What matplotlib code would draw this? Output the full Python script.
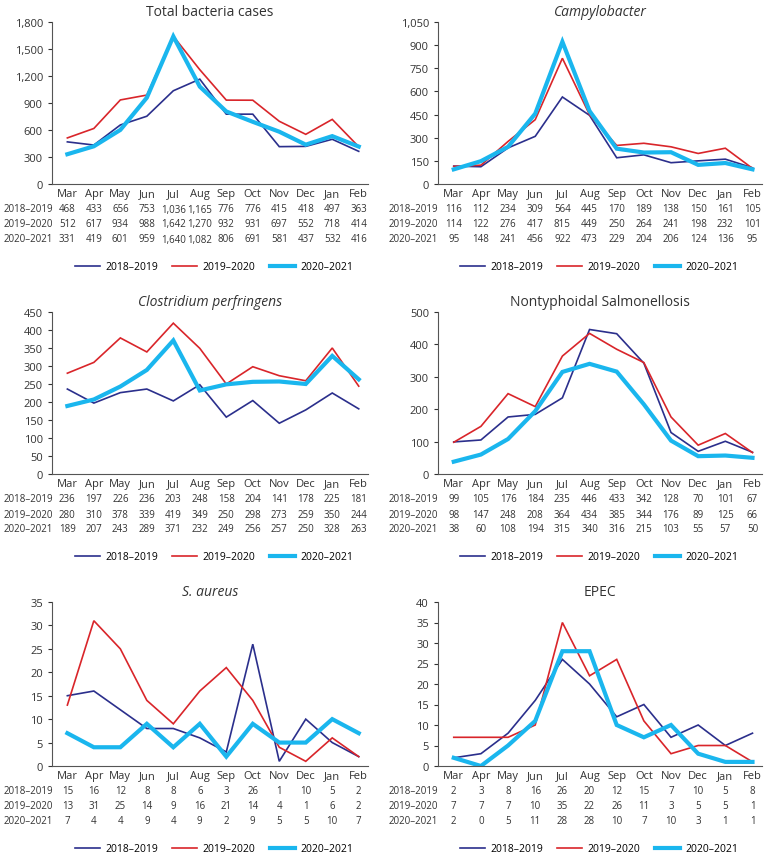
import numpy as np
import matplotlib
matplotlib.use("Agg")
import matplotlib.pyplot as plt
from matplotlib.lines import Line2D
from matplotlib.ticker import FuncFormatter
import matplotlib.transforms as mtransforms

plt.rcParams['font.family'] = ['Open Sans', 'DejaVu Sans']

months = ['Mar', 'Apr', 'May', 'Jun', 'Jul', 'Aug', 'Sep', 'Oct', 'Nov', 'Dec', 'Jan', 'Feb']
seasons = ['2018-2019', '2019-2020', '2020-2021']

total_1819 = [468, 433, 656, 753, 1036, 1165, 776, 776, 415, 418, 497, 363]
total_1920 = [512, 617, 934, 988, 1642, 1270, 932, 931, 697, 552, 718, 414]
total_2021 = [331, 419, 601, 959, 1640, 1082, 806, 691, 581, 437, 532, 416]

campy_1819 = [116, 112, 234, 309, 564, 445, 170, 189, 138, 150, 161, 105]
campy_1920 = [114, 122, 276, 417, 815, 449, 250, 264, 241, 198, 232, 101]
campy_2021 = [95, 148, 241, 456, 922, 473, 229, 204, 206, 124, 136, 95]

clost_1819 = [236, 197, 226, 236, 203, 248, 158, 204, 141, 178, 225, 181]
clost_1920 = [280, 310, 378, 339, 419, 349, 250, 298, 273, 259, 350, 244]
clost_2021 = [189, 207, 243, 289, 371, 232, 249, 256, 257, 250, 328, 263]

salm_1819 = [99, 105, 176, 184, 235, 446, 433, 342, 128, 70, 101, 67]
salm_1920 = [98, 147, 248, 208, 364, 434, 385, 344, 176, 89, 125, 66]
salm_2021 = [38, 60, 108, 194, 315, 340, 316, 215, 103, 55, 57, 50]

saur_1819 = [15, 16, 12, 8, 8, 6, 3, 26, 1, 10, 5, 2]
saur_1920 = [13, 31, 25, 14, 9, 16, 21, 14, 4, 1, 6, 2]
saur_2021 = [7, 4, 4, 9, 4, 9, 2, 9, 5, 5, 10, 7]

epec_1819 = [2, 3, 8, 16, 26, 20, 12, 15, 7, 10, 5, 8]
epec_1920 = [7, 7, 7, 10, 35, 22, 26, 11, 3, 5, 5, 1]
epec_2021 = [2, 0, 5, 11, 28, 28, 10, 7, 10, 3, 1, 1]

colors = ['#2b2f8c', '#d9252a', '#1ab6ee']
widths = [1.2, 1.2, 3.0]

panels = [
    ('Total bacteria cases', 'normal', [total_1819, total_1920, total_2021], 1800, 300, True),
    ('Campylobacter', 'italic', [campy_1819, campy_1920, campy_2021], 1050, 150, True),
    ('Clostridium perfringens', 'italic', [clost_1819, clost_1920, clost_2021], 450, 50, False),
    ('Nontyphoidal Salmonellosis', 'normal', [salm_1819, salm_1920, salm_2021], 500, 100, False),
    ('S. aureus', 'italic', [saur_1819, saur_1920, saur_2021], 35, 5, False),
    ('EPEC', 'normal', [epec_1819, epec_1920, epec_2021], 40, 5, False),
]

W, H = 769, 854
fig = plt.figure(figsize=(W / 100, H / 100), dpi=100)

lefts = [52, 438]
rights = [368, 762]
tops = [23, 313, 603]
bottoms = [185, 475, 767]
text_col = '#333333'

for i, (title, style, series, ymax, step, comma) in enumerate(panels):
    r, c = divmod(i, 2)
    l, rr = lefts[c], rights[c]
    t, b = tops[r], bottoms[r]
    ax = fig.add_axes([l / W, 1 - b / H, (rr - l) / W, (b - t) / H])
    x = np.arange(len(months))
    for s, col, lw in zip(series, colors, widths):
        ax.plot(x, s, color=col, lw=lw, solid_joinstyle='miter')
    ax.set_xlim(-0.58, 11.35)
    ax.set_ylim(0, ymax)
    ax.set_yticks(np.arange(0, ymax + step / 2, step))
    if comma:
        ax.yaxis.set_major_formatter(FuncFormatter(lambda v, p: f'{int(v):,}'))
    ax.set_xticks(x)
    ax.set_xticklabels(months)
    for sp in ['top', 'right']:
        ax.spines[sp].set_visible(False)
    for sp in ['left', 'bottom']:
        ax.spines[sp].set_color('#555555')
        ax.spines[sp].set_linewidth(0.8)
    ax.tick_params(labelsize=8, colors=text_col, length=3, width=0.8)
    ax.tick_params(axis='x', length=0, pad=3)
    ax.set_title(title, fontsize=10, style=style, color=text_col, pad=5)

    # data table under the chart
    trans = mtransforms.blended_transform_factory(ax.transData, fig.transFigure)
    for k, (name, s) in enumerate(zip(seasons, series)):
        yy = 1 - (b + 25 + 15 * k) / H
        fig.text((4 + c * 385) / W, yy, name.replace('-', '\u2013'), fontsize=7,
                 color=text_col, va='center', ha='left')
        for j, v in enumerate(s):
            ax.text(j, yy, f'{v:,}', transform=trans, fontsize=7, color=text_col,
                    ha='center', va='center')

    handles = [Line2D([0], [0], color=col, lw=lw) for col, lw in zip(colors, widths)]
    ax.legend(handles, [s.replace('-', '\u2013') for s in seasons], loc='center',
              bbox_to_anchor=((214 + c * 385) / W, 1 - (b + 83) / H),
              bbox_transform=fig.transFigure, ncol=3, frameon=False, fontsize=7.5,
              handlelength=2.4, columnspacing=1.4, handletextpad=0.5)

fig.savefig('out.png', dpi=100, facecolor='white')
